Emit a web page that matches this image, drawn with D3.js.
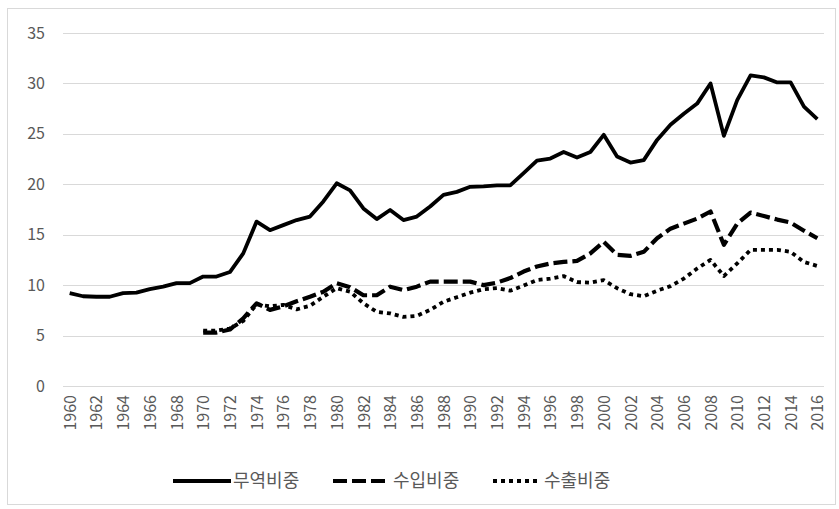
<!DOCTYPE html>
<html><head><meta charset="utf-8">
<script src="https://cdn.jsdelivr.net/npm/d3@7"></script>
<style>
body{margin:0;background:#fff;}
text{font-family:"Noto Sans CJK KR","Noto Sans",sans-serif;}
</style></head>
<body><svg id="c" width="839" height="509"></svg>
<script>
const years = d3.range(1960, 2017);
const yTicks = [0,5,10,15,20,25,30,35];
const seriesNames = ["무역비중","수입비중","수출비중"];
const trade = [9.2,8.9,8.85,8.85,9.2,9.25,9.6,9.85,10.2,10.2,10.85,10.85,11.3,13.15,16.3,
  15.45,15.95,16.45,16.8,18.3,20.1,19.4,17.6,16.55,17.45,16.45,16.8,17.8,18.95,
  19.25,19.75,19.8,19.9,19.9,21.1,22.35,22.55,23.2,22.65,23.2,24.9,22.75,22.15,
  22.4,24.4,25.9,27.0,28.0,30.0,24.8,28.35,30.8,30.6,30.1,30.1,27.7,26.45];
const importVals = [null,null,null,null,null,null,null,null,null,null,
  5.3,5.3,5.6,6.7,8.2,7.55,7.9,8.4,8.85,9.35,10.2,9.8,9.0,9.0,9.85,9.5,9.85,10.35,10.35,
  10.35,10.35,10.0,10.25,10.7,11.35,11.85,12.15,12.3,12.4,13.15,14.3,13.0,12.9,
  13.3,14.65,15.6,16.1,16.6,17.3,14.0,16.1,17.2,16.85,16.5,16.2,15.4,14.65];
const exportVals = [null,null,null,null,null,null,null,null,null,null,
  5.5,5.5,5.7,6.45,8.1,7.9,8.05,7.6,7.95,8.85,9.7,9.35,8.2,7.35,7.2,6.85,6.95,7.55,8.35,
  8.8,9.25,9.6,9.7,9.45,9.95,10.5,10.65,10.9,10.3,10.25,10.5,9.7,9.1,
  8.9,9.45,9.9,10.65,11.65,12.5,10.9,12.15,13.5,13.5,13.5,13.3,12.3,11.9];

const svg = d3.select("#c");
const L = 63, R = 824, T = 33, B = 386;
const x = d3.scalePoint().domain(years).range([L, R]).padding(0.5);
const y = d3.scaleLinear().domain([0, 35]).range([B, T]);

// outer frame
svg.append("rect").attr("x",7.5).attr("y",8.5).attr("width",828).attr("height",496)
  .attr("fill","#fff").attr("stroke","#d9d9d9");

// gridlines
svg.append("g").selectAll("line").data(yTicks).join("line")
  .attr("x1",L).attr("x2",R).attr("y1",d=>Math.round(y(d))+0.5).attr("y2",d=>Math.round(y(d))+0.5)
  .attr("stroke","#d9d9d9").attr("stroke-width",1.2);

// y axis labels
const yAxis = d3.axisLeft(y).tickValues(yTicks).tickSize(0).tickPadding(0);
const gy = svg.append("g").attr("transform",`translate(45,0)`).call(yAxis);
gy.select(".domain").remove();
gy.selectAll("text").attr("fill","#595959").style("font-size","16px").attr("x",0);

// x axis labels
const xAxis = d3.axisBottom(x).tickValues(years.filter(d=>(d-1960)%2===0)).tickSize(0).tickPadding(0);
const gx = svg.append("g").attr("transform",`translate(0,${B})`).call(xAxis);
gx.select(".domain").remove();
gx.selectAll("text").attr("fill","#595959").style("font-size","16px")
  .attr("transform","rotate(-90)").attr("text-anchor","end")
  .attr("x",-9).attr("y",0).attr("dy","0.35em");

const line = d3.line().defined(d=>d[1]!=null).x(d=>x(d[0])).y(d=>y(d[1]));
const styles = [
  {vals: trade, dash: null, w: 3.8},
  {vals: importVals, dash: "14 5", w: 4.2},
  {vals: exportVals, dash: "4 4", w: 3.8}
];
styles.forEach(s=>{
  svg.append("path").datum(years.map((yr,i)=>[yr,s.vals[i]]))
    .attr("d",line).attr("fill","none").attr("stroke","#000")
    .attr("stroke-width",s.w).attr("stroke-linejoin","round").attr("stroke-linecap","butt")
    .attr("stroke-dasharray",s.dash);
});

// legend
const legLine = [[173,231],[333,389],[493,541]];
const legText = [233, 393, 544];
const lg = svg.append("g").attr("transform","translate(0,481)");
styles.forEach((s,i)=>{
  lg.append("line").attr("x1",legLine[i][0]).attr("x2",legLine[i][1]).attr("y1",0).attr("y2",0)
    .attr("stroke","#000").attr("stroke-width",s.w).attr("stroke-dasharray",s.dash);
  lg.append("text").attr("x",legText[i]).attr("y",0).attr("dy","0.35em")
    .attr("fill","#595959").style("font-size","18px").text(seriesNames[i]);
});
</script></body></html>
